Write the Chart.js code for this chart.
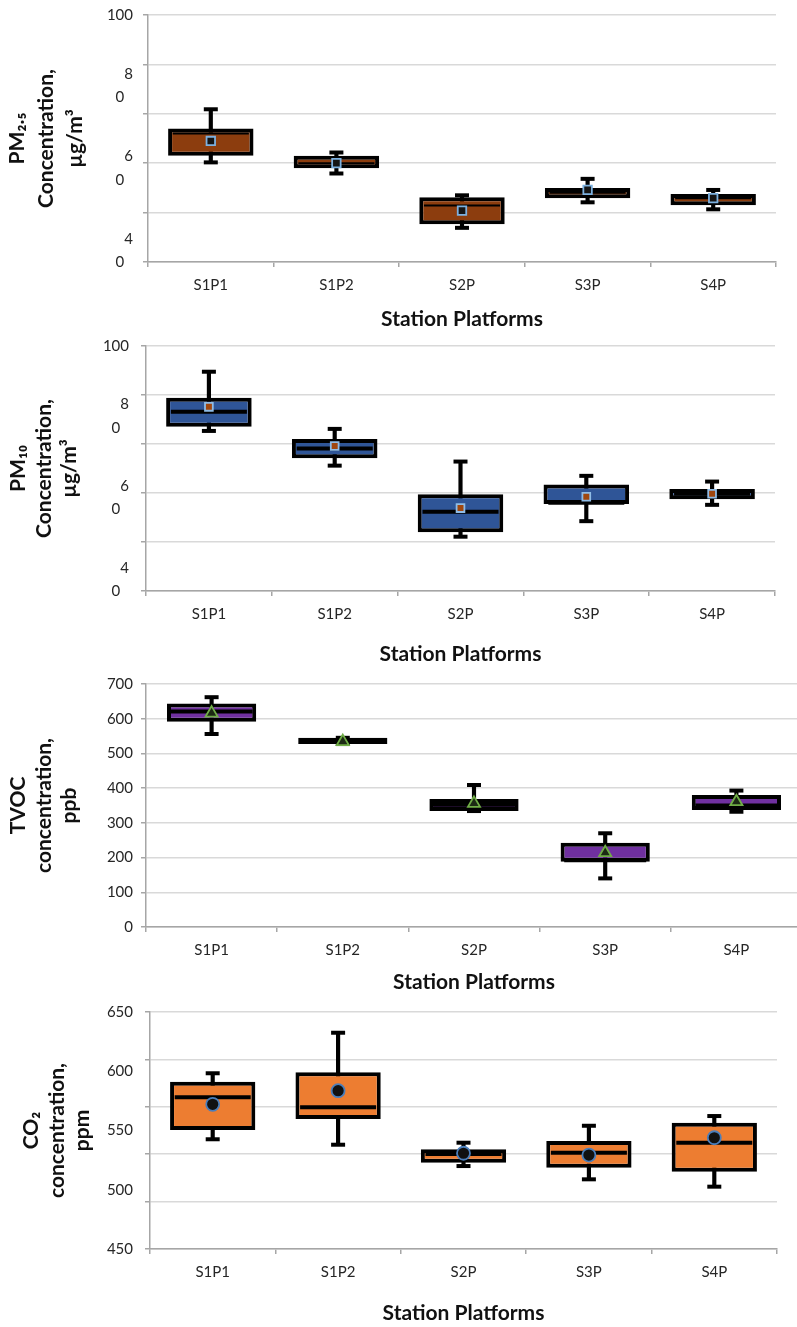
<!DOCTYPE html>
<html>
<head>
<meta charset="utf-8">
<title>Station platform box plots</title>
<script src="https://cdn.jsdelivr.net/npm/chart.js@4"></script>
<style>
  html, body { margin: 0; padding: 0; background: #fff; overflow: hidden; }
  body { width: 797px; height: 1327px; position: relative; }
  canvas { position: absolute; left: 0; }
</style>
</head>
<body>
<canvas id="pm25" width="797" height="331" style="top:0px"></canvas>
<canvas id="pm10" width="797" height="335" style="top:331px"></canvas>
<canvas id="tvoc" width="810" height="325" style="top:669px"></canvas>
<canvas id="co2" width="797" height="328" style="top:997px"></canvas>
<script>
const categories = ['S1P1', 'S1P2', 'S2P', 'S3P', 'S4P'];

// PM2.5 (µg/m3)
const pm25Min = [64.2, 61.5, 48.3, 54.5, 52.8];
const pm25Q1 = [65.8, 62.8, 49.2, 55.5, 53.8];
const pm25Median = [71.2, 64.0, 53.7, 56.8, 55.5];
const pm25Q3 = [72.4, 65.8, 55.7, 58.0, 56.5];
const pm25Max = [77.1, 66.6, 56.2, 60.2, 57.5];
const pm25Mean = [69.4, 64.0, 52.5, 57.5, 55.5];
const pm25Grid = [40, 52, 64, 76, 88, 100];
const pm25Labels = [100, 80, 60, 40];

// PM10 (µg/m3)
const pm10Min = [79.2, 70.7, 53.3, 57.1, 61.1];
const pm10Q1 = [80.2, 72.5, 54.4, 61.3, 62.5];
const pm10Median = [83.9, 74.9, 59.4, 61.6, 63.8];
const pm10Q3 = [87.3, 77.2, 63.7, 66.1, 65.0];
const pm10Max = [93.7, 79.7, 71.7, 68.2, 66.8];
const pm10Mean = [85.1, 75.5, 60.3, 63.1, 63.8];
const pm10Grid = [40, 52, 64, 76, 88, 100];
const pm10Labels = [100, 80, 60, 40];

// TVOC (ppb)
const tvocMin = [556, 527, 334, 140, 332];
const tvocQ1 = [591, 527, 334, 188, 337];
const tvocMedian = [621, 535, 352, 192, 350];
const tvocQ3 = [644, 545, 369, 243, 380];
const tvocMax = [662, 545, 409, 270, 393];
const tvocMean = [616, 534, 356, 214, 361];
const tvocGrid = [0, 100, 200, 300, 400, 500, 600, 700];
const tvocLabels = [0, 100, 200, 300, 400, 500, 600, 700];

// CO2 (ppm)
const co2Min = [542.6, 538.0, 520.0, 508.8, 502.6];
const co2Q1 = [550.4, 559.7, 522.8, 518.6, 515.2];
const co2Median = [578.0, 569.6, 530.2, 531.3, 539.7];
const co2Q3 = [591.2, 599.1, 534.1, 541.1, 556.6];
const co2Max = [598.3, 632.5, 539.7, 554.0, 562.2];
const co2Mean = [572.1, 583.6, 530.8, 529.3, 543.9];
const co2Grid = [450, 490, 530, 570, 610, 650];
const co2Labels = [450, 500, 550, 600, 650];

const FONT = 'Lato, "DejaVu Sans", sans-serif';
const AXIS_GRAY = '#A6A6A6';

function capSet(values, order) {
  return {
    type: 'line', data: values, showLine: false, order: order,
    pointStyle: 'line', pointRadius: 7, pointBorderWidth: 4,
    pointBorderColor: '#000', pointBackgroundColor: '#000'
  };
}

function boxPlot(id, o) {
  const allTicks = Array.from(new Set(o.grid.concat(o.labels))).sort((a, b) => a - b);
  new Chart(document.getElementById(id), {
    data: {
      labels: categories,
      datasets: [
        { type: 'bar', data: o.min.map((v, i) => [v, o.max[i]]), backgroundColor: '#000',
          barThickness: 3.5, grouped: false, order: 6 },
        { type: 'bar', data: o.q1.map((v, i) => [v, o.q3[i]]), backgroundColor: o.color,
          borderColor: '#000', borderWidth: 4, borderSkipped: false, grouped: false,
          barPercentage: 0.68, categoryPercentage: 1, order: 5 },
        capSet(o.min, 4),
        capSet(o.max, 4),
        { type: 'line', data: o.median, showLine: false, order: 2,
          pointStyle: 'line', pointRadius: o.medianRadius, pointBorderWidth: o.medianWidth,
          pointBorderColor: '#000' },
        { type: 'line', data: o.mean, showLine: false, order: 1,
          pointStyle: o.meanStyle, pointRadius: o.meanRadius, pointBorderWidth: 1.8,
          pointBackgroundColor: o.meanFill, pointBorderColor: o.meanBorder }
      ]
    },
    options: {
      responsive: false,
      animation: false,
      layout: { autoPadding: false, padding: { top: 15, right: o.padRight, left: 0, bottom: 0 } },
      plugins: { legend: { display: false }, tooltip: { enabled: false } },
      scales: {
        x: {
          offset: true,
          grid: { display: true, drawOnChartArea: false, drawTicks: true, tickLength: 5,
                  offset: true, color: AXIS_GRAY, lineWidth: 1.5 },
          border: { color: AXIS_GRAY, width: 1.5 },
          ticks: { color: '#262626', font: { family: FONT, size: 15 }, padding: 9, maxRotation: 0 },
          title: { display: true, text: 'Station Platforms', color: '#111',
                   font: { family: FONT, size: 21, weight: 'bold', lineHeight: 1.15 }, padding: 0 },
          afterFit: s => { s.height = o.xHeight; s.paddingLeft = 0; s.paddingRight = 0; }
        },
        y: {
          min: o.grid[0], max: o.grid[o.grid.length - 1],
          afterBuildTicks: s => { s.ticks = allTicks.map(v => ({ value: v })); },
          grid: {
            color: c => o.grid.includes(c.tick.value) ? '#D9D9D9' : 'rgba(0,0,0,0)',
            tickColor: c => o.grid.includes(c.tick.value) ? AXIS_GRAY : 'rgba(0,0,0,0)',
            lineWidth: 1.5, tickLength: 5
          },
          border: { color: AXIS_GRAY, width: 1.5 },
          ticks: {
            color: '#262626', padding: o.tickPad, labelOffset: o.labelOffset, autoSkip: false,
            font: { family: FONT, size: 15, lineHeight: o.tickLineHeight },
            callback: v => o.labels.includes(v) ? o.format(v) : ''
          },
          title: { display: true, text: o.title, color: '#111',
                   font: { family: FONT, size: 21, weight: 'bold', lineHeight: o.titleLineHeight },
                   padding: { top: o.titlePad, bottom: 0 } },
          afterFit: s => { s.width = o.yWidth; s.paddingTop = 0; s.paddingBottom = 0; }
        }
      }
    }
  });
}

// wrapped labels as in the original figure: "8" over "0", the last line sitting on the value
const wrapped = v => v === 100 ? ['', '100'] : [String(v)[0], String(v)[1] + '\u2007'];

boxPlot('pm25', {
  min: pm25Min, q1: pm25Q1, median: pm25Median, q3: pm25Q3, max: pm25Max, mean: pm25Mean,
  grid: pm25Grid, labels: pm25Labels, format: wrapped,
  color: '#8C3D0E', medianRadius: 38, medianWidth: 2,
  meanStyle: 'rect', meanRadius: 6, meanFill: '#151515', meanBorder: '#7DB1E0',
  title: ['PM\u2082.\u2085', 'Concentration,', 'µg/m³'], titleLineHeight: 1.38, titlePad: 3,
  tickPad: 10, labelOffset: -11.6, tickLineHeight: 1.55,
  yWidth: 148, xHeight: 69, padRight: 21
});

boxPlot('pm10', {
  min: pm10Min, q1: pm10Q1, median: pm10Median, q3: pm10Q3, max: pm10Max, mean: pm10Mean,
  grid: pm10Grid, labels: pm10Labels, format: wrapped,
  color: '#2F5597', medianRadius: 38, medianWidth: 4,
  meanStyle: 'rect', meanRadius: 5.5, meanFill: '#A0470F', meanBorder: '#8FBCE6',
  title: ['PM\u2081\u2080', 'Concentration,', 'µg/m³'], titleLineHeight: 1.2, titlePad: 6,
  tickPad: 12, labelOffset: -11.6, tickLineHeight: 1.55,
  yWidth: 146, xHeight: 75, padRight: 22
});

boxPlot('tvoc', {
  min: tvocMin, q1: tvocQ1, median: tvocMedian, q3: tvocQ3, max: tvocMax, mean: tvocMean,
  grid: tvocGrid, labels: tvocLabels, format: v => String(v),
  color: '#7030A0', medianRadius: 41, medianWidth: 4,
  meanStyle: 'triangle', meanRadius: 7, meanFill: '#1C2A14', meanBorder: '#70AD47',
  title: ['TVOC', 'concentration,', 'ppb'], titleLineHeight: 1.2, titlePad: 6,
  tickPad: 8, labelOffset: 0, tickLineHeight: 1.2,
  yWidth: 146, xHeight: 67, padRight: 8
});

boxPlot('co2', {
  min: co2Min, q1: co2Q1, median: co2Median, q3: co2Q3, max: co2Max, mean: co2Mean,
  grid: co2Grid, labels: co2Labels, format: v => String(v),
  color: '#ED7D31', medianRadius: 38, medianWidth: 4,
  meanStyle: 'circle', meanRadius: 6.5, meanFill: '#111', meanBorder: '#4A7EBB',
  title: ['CO\u2082', 'concentration,', 'ppm'], titleLineHeight: 1.2, titlePad: 19,
  tickPad: 12, labelOffset: 0, tickLineHeight: 1.2,
  yWidth: 150, xHeight: 76, padRight: 20
});
</script>
</body>
</html>
